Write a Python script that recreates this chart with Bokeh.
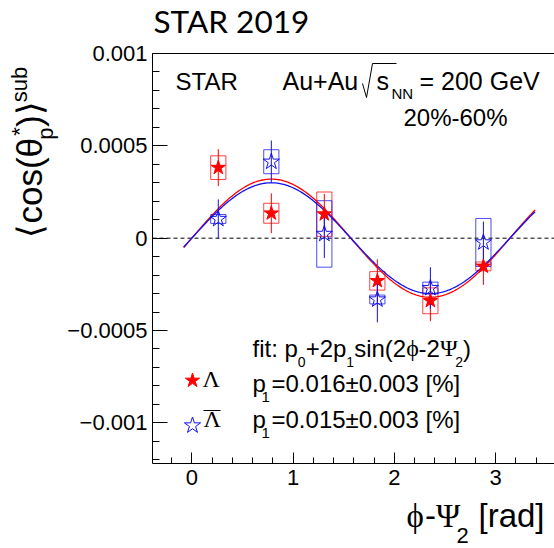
import math
import numpy as np
from bokeh.plotting import figure
from bokeh.models import Label, Range1d, FixedTicker, CustomJSTickFormatter, LinearAxis
from bokeh.embed import file_html
from bokeh.resources import INLINE

# ---- data -------------------------------------------------------------
# centres of the phi - Psi_2 bins (rad)
phi = [0.2618, 0.7854, 1.3090, 1.8326, 2.3562, 2.8798]

# Lambda: <cos(theta_p*)>^sub, statistical and systematic errors
lam_y = [0.000382, 0.000135, 0.000130, -0.000231, -0.000339, -0.000153]
lam_stat = [0.000100, 0.000108, 0.000110, 0.000117, 0.000110, 0.000100]
lam_sys = [0.000064, 0.000054, 0.000120, 0.000050, 0.000070, 0.000024]

# anti-Lambda
alam_y = [0.000104, 0.000414, 0.000023, -0.000332, -0.000270, -0.000023]
alam_stat = [0.000106, 0.000115, 0.000130, 0.000124, 0.000113, 0.000113]
alam_sys = [0.000024, 0.000065, 0.000180, 0.000024, 0.000032, 0.000130]

# fit p0 + 2 p1 sin(2(phi - Psi_2)); p1 quoted in percent
lam_p0, lam_p1_pct = 0.0, 0.016
alam_p0, alam_p1_pct = 0.0, 0.015
fit_lo, fit_hi = -0.08, 3.39

x_ticks = [0, 1, 2, 3]
y_ticks = [-0.001, -0.0005, 0.0, 0.0005, 0.001]

# ---- layout -----------------------------------------------------------
RED = "#ff0000"
BLUE = "#1010f0"
SANS = "Liberation Sans"
SERIF = "Liberation Serif"

W, H = 554, 548
# plotting box (pixels) and the axis limits it spans
LEFT, TOP, BOTTOM = 152, 53, 463
X0, X1 = -0.388, 3.582
Y0, Y1 = -0.00122, 0.001
kx = (X1 - X0) / (W - LEFT)
ky = (Y1 - Y0) / (BOTTOM - TOP)
XL = X0 - LEFT * kx
YT = Y1 + TOP * ky
YB = Y1 - (H - TOP) * ky

p = figure(width=W, height=H, x_range=Range1d(XL, X1), y_range=Range1d(YB, YT),
           output_backend="svg", toolbar_location=None,
           min_border_left=0, min_border_right=0, min_border_top=0, min_border_bottom=0,
           background_fill_color="white", border_fill_color="white")
p.grid.visible = False
p.outline_line_color = None


def dx(px):
    return XL + px * kx


def dy(py):
    return YT - py * ky


# ---- axes (pinned to the edges of the box) --------------------------------
x_minor = [round(-0.2 + 0.2 * k, 1) for k in range(19)]
y_minor = [round(-0.0012 + 0.0001 * k, 4) for k in range(23)]
xa, ya = p.xaxis[0], p.yaxis[0]
xa.fixed_location, xa.bounds = Y0, (X0, X1)
ya.fixed_location, ya.bounds = X0, (Y0, Y1)
xa.ticker = FixedTicker(ticks=x_ticks, minor_ticks=x_minor)
ya.ticker = FixedTicker(ticks=y_ticks, minor_ticks=y_minor)
ya.formatter = CustomJSTickFormatter(code="""
    if (tick == 0) { return "0"; }
    return (tick < 0 ? "\u2212" : "") + Math.abs(tick).toString();
""")
for ax in (xa, ya):
    ax.axis_line_color = "black"
    ax.major_tick_line_color = "black"
    ax.minor_tick_line_color = "black"
    ax.major_tick_out = 0
    ax.minor_tick_out = 0
    ax.major_label_text_font = SANS
    ax.major_label_text_font_size = "22px"
    ax.major_label_text_color = "black"
xa.major_tick_in, xa.minor_tick_in, xa.major_label_standoff = 11, 6, 6
ya.major_tick_in, ya.minor_tick_in, ya.major_label_standoff = 15, 7, 5

top_edge = LinearAxis(fixed_location=Y1, bounds=(X0, X1), ticker=FixedTicker(ticks=[]),
                      major_tick_in=0, major_tick_out=0, minor_tick_in=0, minor_tick_out=0,
                      major_label_text_alpha=0, axis_line_color="black")
p.add_layout(top_edge, "above")

# dashed zero line across the box
p.line([X0, X1], [0, 0], line_color="black", line_dash="4 3", line_width=1)

# ---- systematic boxes -----------------------------------------------------
box_w = 0.15
p.rect(x=phi, y=lam_y, width=box_w, height=[2 * s for s in lam_sys],
       fill_color=None, line_color=RED, line_alpha=0.75, line_width=1)
p.rect(x=phi, y=alam_y, width=box_w, height=[2 * s for s in alam_sys],
       fill_color=None, line_color=BLUE, line_alpha=0.75, line_width=1)

# ---- fit curves ----------------------------------------------------------
xf = np.linspace(fit_lo, fit_hi, 300)
p.line(xf, lam_p0 + 2 * lam_p1_pct / 100 * np.sin(2 * xf), line_color=RED, line_width=1.3)
p.line(xf, alam_p0 + 2 * alam_p1_pct / 100 * np.sin(2 * xf), line_color=BLUE, line_width=1.3)

# ---- statistical errors and points --------------------------------------
p.segment(x0=phi, x1=phi, y0=[v - e for v, e in zip(lam_y, lam_stat)],
          y1=[v + e for v, e in zip(lam_y, lam_stat)], line_color=RED, line_width=1)
p.segment(x0=phi, x1=phi, y0=[v - e for v, e in zip(alam_y, alam_stat)],
          y1=[v + e for v, e in zip(alam_y, alam_stat)], line_color=BLUE, line_width=1)
p.scatter(phi, lam_y, marker="star", size=15, fill_color=RED, line_color=RED)
p.scatter(phi, alam_y, marker="star", size=17, fill_color=None, line_color=BLUE, line_width=1)

# ---- text helpers ----------------------------------------------------------
WID = {' ': .278, '%': .889, '(': .333, ')': .333, '*': .389, '+': .584, '-': .333,
       '.': .278, ':': .278, '=': .584, '[': .278, ']': .278, '±': .584,
       'A': .667, 'G': .778, 'N': .722, 'R': .722, 'S': .667, 'T': .611, 'V': .667,
       'a': .556, 'b': .556, 'c': .5, 'd': .556, 'e': .556, 'f': .278, 'i': .222,
       'n': .556, 'o': .556, 'p': .556, 'r': .333, 's': .5, 't': .278, 'u': .556,
       'θ': .556, '⟨': .35, '⟩': .35, 'ϕ': .56, 'Ψ': .68, 'Λ': .72}
LIFT = 0.35   # the rendered glyphs sit this many em below the requested anchor


def width(text, size):
    return sum(WID.get(c, .556) for c in text) * size


def put(text, px, py, size, font=SANS, align="left", angle=0.0, color="black"):
    """Place text with its baseline at pixel (px, py); rotated text has its baseline at x=px."""
    if angle:
        px -= LIFT * size
    else:
        py -= LIFT * size
    p.add_layout(Label(x=dx(px), y=dy(py), text=text, text_font=font,
                       text_font_size=f"{size}px", text_align=align,
                       text_baseline="alphabetic", angle=angle, text_color=color))


def run(px, base, parts):
    """Lay out (text, size, baseline shift, font, extra gap) pieces left to right."""
    for text, size, shift, font, gap in parts:
        put(text, px, base + shift, size, font)
        px += width(text, size) + gap


# title above the box
put("STAR 2019", 153, 32, 31.5, font="Lato")

# header inside the box
put("STAR", 175, 89, 24)
put("Au+Au", 282, 89, 25)
p.line([dx(362), dx(366), dx(372), dx(396)], [dy(83), dy(97), dy(63), dy(63)],
       line_color="black", line_width=1)
put("s", 376, 89, 25)
put("NN", 391, 98, 15)
put("= 200 GeV", 419, 89, 25)
put("20%-60%", 455, 125, 24, align="center")

# fit description and legend
run(252, 356, [("fit: p", 24, 0, SANS, 0), ("0", 14, 10, SANS, 0),
               ("+2p", 24, 0, SANS, 0), ("1", 14, 10, SANS, 0),
               ("sin(2", 24, 0, SANS, 0), ("ϕ", 24, 0, SERIF, -1),
               ("-2", 24, 0, SANS, 0), ("Ψ", 24, 0, SERIF, -1),
               ("2", 14, 10, SANS, 0), (")", 24, 0, SANS, 0)])
for base, text in ((391, "=0.016±0.003 [%]"), (427, "=0.015±0.003 [%]")):
    put("p", 252, base, 24)
    put("1", 261, base + 11, 15)
    put(text, 271, base, 24)

p.scatter([dx(192)], [dy(380)], marker="star", size=15, fill_color=RED, line_color=RED)
p.scatter([dx(192)], [dy(425)], marker="star", size=17, fill_color=None,
          line_color=BLUE, line_width=1)
put("Λ", 202, 387, 24, font=SERIF)
put("Λ", 203, 427, 24, font=SERIF)
p.line([dx(203), dx(220)], [dy(410), dy(410)], line_color="black", line_width=1.2)

# x-axis title
run(406, 527, [("ϕ", 33, 0, SERIF, 0), ("-", 33, 0, SANS, 0), ("Ψ", 33, 0, SERIF, -2),
               ("2", 22, 16, SANS, 0)])
put("[rad]", 478, 527, 33)

# y-axis title, rotated, reading upwards
ROT = math.pi / 2
base_x, pos = 41, 237
put("⟨cos(θ", base_x, pos, 35, angle=ROT)
pos -= width("⟨cos(θ", 35)
put("p", base_x + 12, pos, 22, angle=ROT)
put("*", base_x - 14, pos - 4, 22, angle=ROT)
pos -= max(width("p", 22), 4 + width("*", 22))
put(")⟩", base_x, pos, 35, angle=ROT)
pos -= width(")⟩", 35)
put("sub", base_x - 14, pos - 1, 22, angle=ROT)

open("out.html", "w", encoding="utf-8").write(file_html(p, INLINE))
